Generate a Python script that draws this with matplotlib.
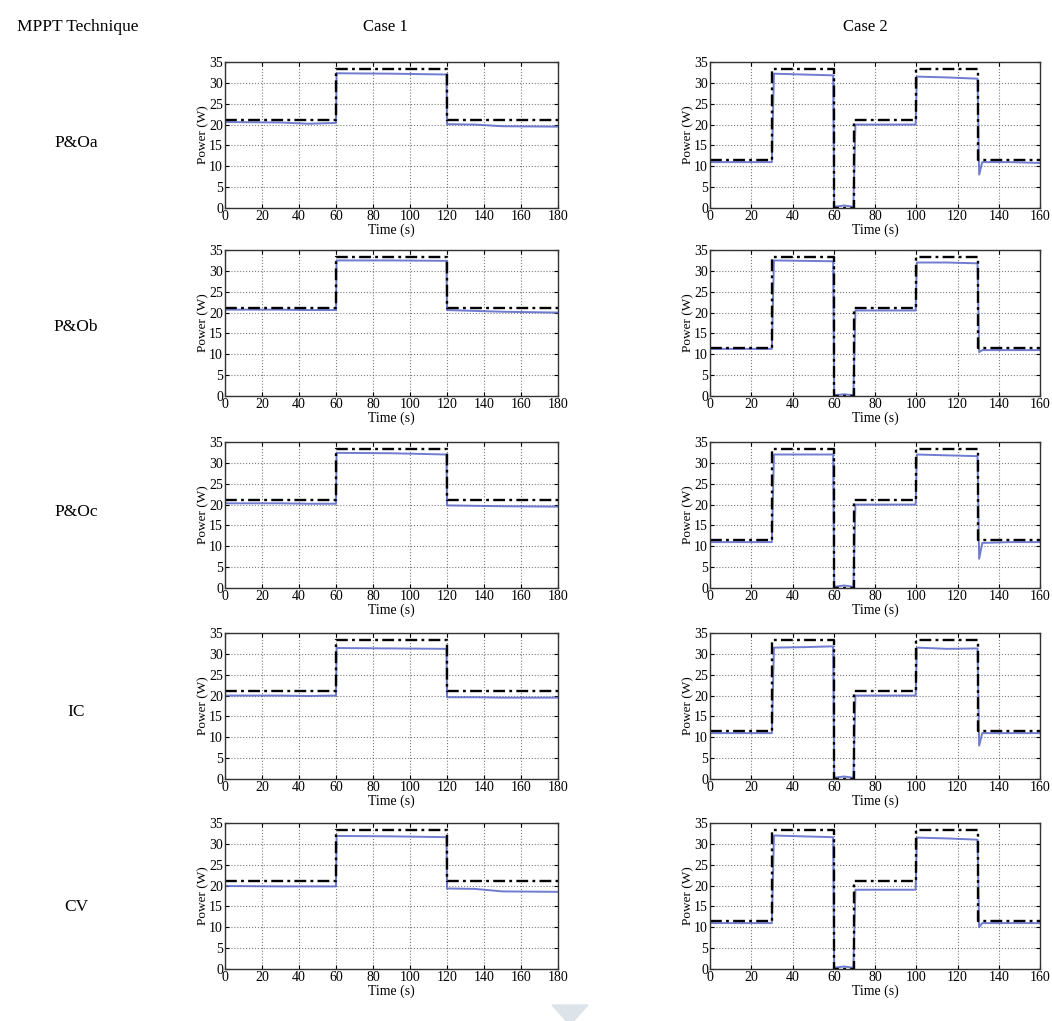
import numpy as np
import matplotlib
matplotlib.use("Agg")
import matplotlib.pyplot as plt
from matplotlib.patches import Polygon

plt.rcParams['font.family'] = ['Liberation Serif', 'DejaVu Serif']

techniques = ['P&Oa', 'P&Ob', 'P&Oc', 'IC', 'CV']

# reference (available max power) profiles
c1_ref_t = [0, 60, 60, 120, 120, 180]
c1_ref_p = [21, 21, 33.3, 33.3, 21, 21]
c2_ref_t = [0, 30, 30, 60, 60, 70, 70, 100, 100, 130, 130, 160]
c2_ref_p = [11.5, 11.5, 33.3, 33.3, 0, 0, 21, 21, 33.3, 33.3, 11.5, 11.5]

# measured output power, read at these times
c1_t = [0, 30, 45, 60, 60.3, 90, 119.7, 120, 135, 150, 180]
c1_poa = [20.6, 20.5, 20.2, 20.4, 32.3, 32.2, 32.0, 20.1, 20.0, 19.6, 19.5]
c1_pob = [20.7, 20.7, 20.6, 20.6, 32.5, 32.5, 32.4, 20.6, 20.4, 20.2, 20.0]
c1_poc = [20.3, 20.3, 20.2, 20.2, 32.4, 32.3, 32.0, 19.8, 19.7, 19.6, 19.5]
c1_ic = [20.0, 20.0, 19.9, 20.0, 31.4, 31.3, 31.2, 19.6, 19.6, 19.5, 19.5]
c1_cv = [19.9, 19.8, 19.8, 19.8, 31.9, 31.8, 31.6, 19.3, 19.2, 18.6, 18.5]

c2_t = [0, 30, 31, 45, 59.7, 60.2, 65, 69.5, 70.5, 85, 99.7, 100.3, 115, 129.7, 130.5, 132, 145, 160]
c2_poa = [11.0, 11.0, 32.2, 32.0, 31.8, 0.3, 0.6, 0.3, 20.0, 20.0, 20.0, 31.5, 31.3, 31.0, 8.0, 11.0, 11.0, 10.8]
c2_pob = [11.3, 11.3, 32.5, 32.4, 32.3, 0.2, 0.4, 0.2, 20.5, 20.5, 20.5, 32.0, 32.0, 31.8, 10.5, 11.0, 11.0, 11.0]
c2_poc = [11.0, 11.0, 32.0, 32.0, 32.0, 0.3, 0.6, 0.3, 20.0, 20.0, 20.0, 32.0, 31.8, 31.6, 7.0, 10.8, 11.0, 11.0]
c2_ic = [11.0, 11.0, 31.5, 31.6, 31.8, 0.3, 0.6, 0.3, 20.0, 20.0, 20.0, 31.5, 31.2, 31.3, 8.0, 11.0, 11.0, 11.0]
c2_cv = [11.0, 11.0, 32.0, 31.8, 31.6, 0.3, 0.6, 0.3, 19.0, 19.0, 19.0, 31.5, 31.3, 31.0, 10.0, 11.0, 11.0, 11.0]

case1 = [c1_poa, c1_pob, c1_poc, c1_ic, c1_cv]
case2 = [c2_poa, c2_pob, c2_poc, c2_ic, c2_cv]

W, H = 1052, 1021
fig = plt.figure(figsize=(W / 100, H / 100), dpi=100)

tops = [62, 250, 442, 633, 823]
ax_h = 146
col_x = [(225, 333, 180, c1_ref_t, c1_ref_p, c1_t, case1),
         (710, 330, 160, c2_ref_t, c2_ref_p, c2_t, case2)]

blue = '#5665c8'

for r, top in enumerate(tops):
    for x0, w, tmax, rt, rp, mt, series in col_x:
        ax = fig.add_axes([x0 / W, 1 - (top + ax_h) / H, w / W, ax_h / H])
        ax.plot(mt, series[r], color=blue, lw=1.4, alpha=0.85)
        ax.plot(rt, rp, color='black', lw=1.7, ls='-.', dashes=(5, 1.8, 1.2, 1.8))
        ax.set_xlim(0, tmax)
        ax.set_ylim(0, 35)
        ax.set_xticks(np.arange(0, tmax + 1, 20))
        ax.set_yticks(np.arange(0, 36, 5))
        ax.grid(True, color='#444444', ls=':', lw=0.8, alpha=0.7)
        ax.tick_params(direction='in', top=True, right=True, labelsize=10,
                       length=3, pad=1.5)
        for s in ax.spines.values():
            s.set_linewidth(1.0)
            s.set_color('#333333')
        ax.set_xlabel('Time (s)', fontsize=10, labelpad=0)
        ax.set_ylabel('Power (W)', fontsize=9.5, labelpad=0)

fig.text(78 / W, 1 - 27 / H, 'MPPT Technique', ha='center', va='center', fontsize=12.5)
fig.text(385 / W, 1 - 27 / H, 'Case 1', ha='center', va='center', fontsize=12)
fig.text(865 / W, 1 - 27 / H, 'Case 2', ha='center', va='center', fontsize=12)
label_y = [143, 327, 512, 712, 907]
for name, y in zip(techniques, label_y):
    fig.text(76 / W, 1 - y / H, name, ha='center', va='center', fontsize=12.5)

tri = Polygon([[552 / W, 1 - 1005 / H], [588 / W, 1 - 1005 / H], [570 / W, 1 - 1025 / H]],
              closed=True, transform=fig.transFigure, color='#dce3e9', clip_on=False)
fig.patches.append(tri)

fig.savefig('out.png', dpi=100, facecolor='white')
